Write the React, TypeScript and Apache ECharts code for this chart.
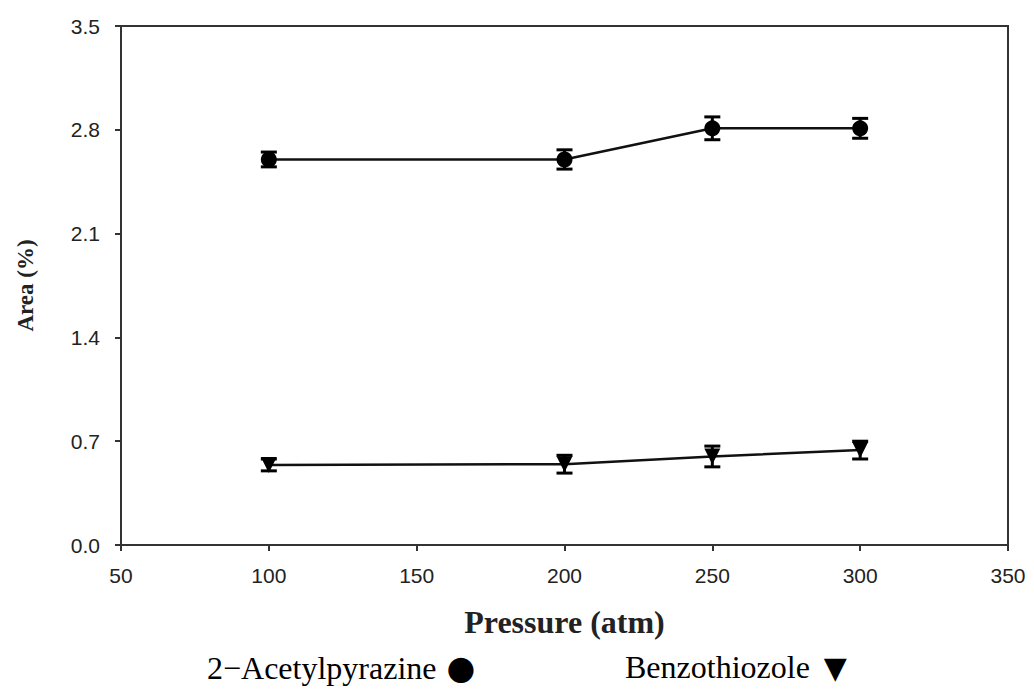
import React, { useEffect, useRef } from "react";
import * as echarts from "echarts";

const pressures = [100, 200, 250, 300];
const acetylpyrazine = [2.6, 2.6, 2.81, 2.81];
const acetylpyrazineErr = [0.05, 0.065, 0.077, 0.067];
const benzothiozole = [0.54, 0.545, 0.597, 0.64];
const benzothiozoleErr = [0.04, 0.06, 0.07, 0.06];
const legendNames = ["2\u2212Acetylpyrazine", "Benzothiozole"];
const legendSymbols = ["\u25CF", "\u25BC"];

function errorSeries(vals: number[], errs: number[]) {
  const data = pressures.map((p, i) => [p, vals[i] - errs[i], vals[i] + errs[i]]);
  return {
    type: "custom",
    data,
    z: 3,
    renderItem: (params: any, api: any) => {
      const x = api.value(0);
      const lo = api.coord([x, api.value(1)]);
      const hi = api.coord([x, api.value(2)]);
      const hw = 8;
      const style = { stroke: "#000", lineWidth: 3 };
      return {
        type: "group",
        children: [
          { type: "line", shape: { x1: lo[0], y1: lo[1], x2: hi[0], y2: hi[1] }, style },
          { type: "line", shape: { x1: lo[0] - hw, y1: lo[1], x2: lo[0] + hw, y2: lo[1] }, style },
          { type: "line", shape: { x1: hi[0] - hw, y1: hi[1], x2: hi[0] + hw, y2: hi[1] }, style },
        ],
      };
    },
  };
}

function legendText(i: number, left: number, symSize: number, gap: number) {
  return {
    type: "text",
    left,
    top: 651,
    style: {
      text: `{t|${legendNames[i]}}{s|${legendSymbols[i]}}`,
      rich: {
        t: { fontFamily: "Liberation Serif", fontSize: 32, fill: "#000", verticalAlign: "middle" },
        s: {
          fontFamily: "DejaVu Sans",
          fontSize: symSize,
          fill: "#000",
          verticalAlign: "middle",
          padding: [0, 0, 0, gap],
        },
      },
    },
  };
}

export default function App() {
  const ref = useRef<HTMLDivElement>(null);
  useEffect(() => {
    const chart = echarts.init(ref.current!, undefined, { renderer: "svg" });
    const axisLabel = { fontFamily: "Liberation Sans", fontSize: 21, color: "#222" };
    chart.setOption({
      animation: false,
      backgroundColor: "#fff",
      grid: {
        left: 121,
        right: 26,
        top: 26,
        bottom: 153,
        show: true,
        borderColor: "#333",
        borderWidth: 2,
      },
      xAxis: {
        type: "value",
        min: 50,
        max: 350,
        interval: 50,
        name: "Pressure (atm)",
        nameLocation: "middle",
        nameGap: 61,
        nameTextStyle: { fontFamily: "Liberation Serif", fontWeight: "bold", fontSize: 32, color: "#222" },
        axisLine: { onZero: false, lineStyle: { color: "#333", width: 2 } },
        axisTick: { show: true, length: 6, lineStyle: { color: "#333", width: 2 } },
        axisLabel: { ...axisLabel, margin: 20 },
        splitLine: { show: false },
      },
      yAxis: {
        type: "value",
        min: 0,
        max: 3.5,
        interval: 0.7,
        name: "Area (%)",
        nameLocation: "middle",
        nameGap: 84,
        nameRotate: 90,
        nameTextStyle: { fontFamily: "Liberation Serif", fontWeight: "bold", fontSize: 23, color: "#222" },
        axisLine: { show: true, lineStyle: { color: "#333", width: 2 } },
        axisTick: { show: true, length: 6, lineStyle: { color: "#333", width: 2 } },
        axisLabel: { ...axisLabel, margin: 21, formatter: (v: number) => v.toFixed(1) },
        splitLine: { show: false },
      },
      series: [
        {
          type: "line",
          data: pressures.map((p, i) => [p, acetylpyrazine[i]]),
          symbol: "circle",
          symbolSize: 16,
          itemStyle: { color: "#000" },
          lineStyle: { color: "#111", width: 2.5 },
          z: 4,
        },
        {
          type: "line",
          data: pressures.map((p, i) => [p, benzothiozole[i]]),
          symbol: "triangle",
          symbolRotate: 180,
          symbolSize: 16,
          itemStyle: { color: "#000" },
          lineStyle: { color: "#111", width: 2.5 },
          z: 4,
        },
        errorSeries(acetylpyrazine, acetylpyrazineErr),
        errorSeries(benzothiozole, benzothiozoleErr),
      ],
      graphic: [legendText(0, 207, 33, 10), legendText(1, 625, 30, 14)],
    });
    return () => chart.dispose();
  }, []);
  return <div ref={ref} style={{ width: 1034, height: 698, position: "absolute", left: 0, top: 0 }} />;
}
